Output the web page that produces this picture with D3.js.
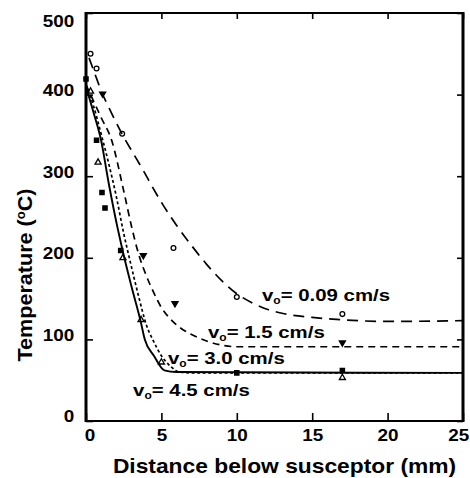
<!DOCTYPE html>
<html>
<head>
<meta charset="utf-8">
<script src="https://cdn.jsdelivr.net/npm/d3@7"></script>
<style>
  body { margin: 0; background: #fff; }
  svg { display: block; font-family: "Liberation Sans", Arial, Helvetica, sans-serif; font-weight: bold; }
</style>
</head>
<body>
<div id="chart"></div>
<script>
'use strict';

// velocities shown on the curve labels
var velocities = ['0.09', '1.5', '3.0', '4.5'];

var xTicks = [0, 5, 10, 15, 20, 25];
var yTicks = [0, 100, 200, 300, 400, 500];

// model curves, [distance mm, temperature C]
var curve009 = [[0.2,445],[0.5,430],[1,405],[1.7,377],[2.5,348],[3.1,329],[3.8,307],[4.4,287],[5,268],[6,240],[7,215],[8,192],[9,172],[10,156],[11,145],[12,137],[13,132],[15,127],[17,124],[20,122],[25,123]];
var curve15  = [[0,412],[0.5,392],[1,372],[1.7,344],[2.5,282],[3.05,236],[3.5,204],[4,178],[4.5,157],[5,139],[5.6,125],[6.2,115],[7,106],[8,98],[9,93],[10,91],[25,91]];
var curve30  = [[0,412],[0.5,386],[1,352],[1.5,316],[2,276],[2.5,230],[3,190],[3.5,152],[4,118],[4.5,97],[5,80],[5.6,67],[6.2,60],[7,59],[25,59]];
var curve45  = [[0,410],[0.5,378],[1,344],[1.5,292],[2.1,236],[2.4,211],[3,166],[3.6,124],[3.9,100],[4.5,80],[5.2,62],[6,60],[25,59]];

// measured points
var pts009 = [[0.3,450],[0.7,432],[2.4,352],[5.8,212],[10,152],[17,131]];
var pts15  = [[1.1,401],[3.8,203],[5.9,144],[17,96]];
var pts30  = [[0.3,404],[0.8,317],[2.45,200],[3.65,124],[5.0,72],[17,53]];
var pts45  = [[0,419],[0.7,344],[1.06,280],[1.26,261],[2.3,209],[10,59],[17,62]];

// where the labels sit, in data units (left edge, baseline)
var labelAt = [[11.67,147],[8.09,102],[5.44,70],[3.12,31]];

var W = 470, H = 478;
var margins = {top: 13, right: 7, bottom: 57, left: 86};

var svg = d3.select('#chart').append('svg')
    .attr('width', W)
    .attr('height', H);

var xScale = d3.scaleLinear().domain([0, 25]).range([margins.left, W - margins.right]);
var yScale = d3.scaleLinear().domain([0, 500]).range([H - margins.bottom, margins.top]);

// axes, ticks pointing inward
var xAxis = svg.append('g')
    .attr('transform', 'translate(0,' + yScale(0) + ')')
    .call(d3.axisBottom(xScale).tickValues(xTicks).tickSizeInner(-8).tickSizeOuter(0).tickPadding(9));
var yAxis = svg.append('g')
    .attr('transform', 'translate(' + xScale(0) + ',0)')
    .call(d3.axisLeft(yScale).tickValues(yTicks).tickSizeInner(-7).tickSizeOuter(0).tickPadding(10));
var topAxis = svg.append('g')
    .attr('transform', 'translate(0,' + yScale(500) + ')')
    .call(d3.axisTop(xScale).tickValues(xTicks).tickSizeInner(-6).tickSizeOuter(0).tickFormat(''));
var rightAxis = svg.append('g')
    .attr('transform', 'translate(' + xScale(25) + ',0)')
    .call(d3.axisRight(yScale).tickValues(yTicks).tickSizeInner(-6).tickSizeOuter(0).tickFormat(''));

[xAxis, yAxis, topAxis, rightAxis].forEach(function(a) {
    a.select('.domain').remove();
    a.selectAll('.tick line').attr('stroke', '#000').attr('stroke-width', 1.6);
});

xAxis.selectAll('.tick text')
    .attr('font-size', 16)
    .attr('fill', '#000')
    .attr('font-family', null)
    .attr('dx', function(d) { return d === 0 ? 3 : (d === 25 ? -4 : 0); })
    .attr('transform', 'scale(1.18,1)');
yAxis.selectAll('.tick text')
    .attr('font-size', 16)
    .attr('fill', '#000')
    .attr('font-family', null)
    .attr('dy', function(d) { return d === 500 ? '0.85em' : '0.05em'; })
    .attr('transform', 'scale(1.18,1)');

// frame
svg.append('line').attr('x1', xScale(0)).attr('x2', xScale(0)).attr('y1', yScale(500) - 1).attr('y2', yScale(0) + 1)
    .attr('stroke', '#000').attr('stroke-width', 3);
svg.append('line').attr('x1', xScale(0)).attr('x2', xScale(25)).attr('y1', yScale(0)).attr('y2', yScale(0))
    .attr('stroke', '#000').attr('stroke-width', 2.2);
svg.append('line').attr('x1', xScale(0)).attr('x2', xScale(25)).attr('y1', yScale(500)).attr('y2', yScale(500))
    .attr('stroke', '#000').attr('stroke-width', 2.2);
svg.append('line').attr('x1', xScale(25)).attr('x2', xScale(25)).attr('y1', yScale(500) - 1).attr('y2', yScale(0) + 1)
    .attr('stroke', '#000').attr('stroke-width', 3);

// curves
var line = d3.line()
    .x(function(d) { return xScale(d[0]); })
    .y(function(d) { return yScale(d[1]); })
    .curve(d3.curveMonotoneX);

var curves = [
    {data: curve009, dash: '11,7', width: 1.7},
    {data: curve15,  dash: '7,5',  width: 1.7},
    {data: curve30,  dash: '3,2.5', width: 1.7},
    {data: curve45,  dash: null,   width: 1.9}
];

svg.append('g').selectAll('path')
    .data(curves)
    .enter()
    .append('path')
    .attr('d', function(c) { return line(c.data); })
    .attr('fill', 'none')
    .attr('stroke', '#000')
    .attr('stroke-width', function(c) { return c.width; })
    .attr('stroke-dasharray', function(c) { return c.dash; });

// markers
var markerSets = [
    {data: pts009, type: d3.symbolCircle,   size: 18, fill: 'none', rot: 0},
    {data: pts15,  type: d3.symbolTriangle, size: 16, fill: '#000', rot: 180},
    {data: pts30,  type: d3.symbolTriangle, size: 16, fill: 'none', rot: 0},
    {data: pts45,  type: d3.symbolSquare,   size: 18, fill: '#000', rot: 0}
];

markerSets.forEach(function(m) {
    svg.append('g').selectAll('path')
        .data(m.data)
        .enter()
        .append('path')
        .attr('d', d3.symbol().type(m.type).size(m.size))
        .attr('transform', function(d) {
            return 'translate(' + xScale(d[0]) + ',' + yScale(d[1]) + ') rotate(' + m.rot + ')';
        })
        .attr('fill', m.fill)
        .attr('stroke', '#000')
        .attr('stroke-width', 1.3);
});

// curve labels
var labels = svg.append('g').selectAll('text')
    .data(velocities)
    .enter()
    .append('text')
    .attr('transform', function(d, i) {
        return 'translate(' + xScale(labelAt[i][0]) + ',' + yScale(labelAt[i][1]) + ') scale(1.2,1)';
    })
    .attr('font-size', 17)
    .attr('fill', '#000');
labels.append('tspan').text('v');
labels.append('tspan').attr('font-size', 10).attr('dy', 3).text('o');
labels.append('tspan').attr('dy', -3).text(function(d) { return '= ' + d + ' cm/s'; });

// axis titles
svg.append('text')
    .attr('transform', 'translate(' + ((xScale(0) + xScale(25)) / 2 + 10) + ',' + 473 + ') scale(1.14,1)')
    .attr('text-anchor', 'middle')
    .attr('font-size', 20)
    .text('Distance below susceptor (mm)');

var yTitle = svg.append('text')
    .attr('transform', 'translate(32,' + 275 + ') rotate(-90) scale(1.08,1)')
    .attr('text-anchor', 'middle')
    .attr('font-size', 20);
yTitle.append('tspan').text('Temperature (');
yTitle.append('tspan').attr('font-size', 12).attr('dy', -7).text('o');
yTitle.append('tspan').attr('dy', 7).text('C)');
</script>
</body>
</html>
